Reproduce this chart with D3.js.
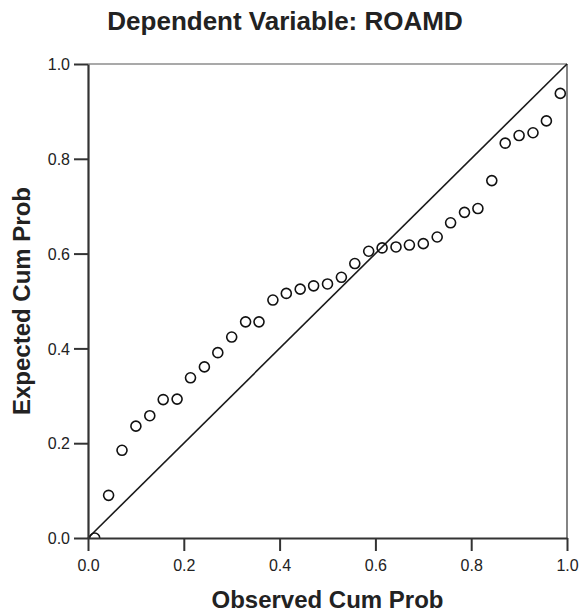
<!DOCTYPE html>
<html>
<head>
<meta charset="utf-8">
<script src="https://cdn.jsdelivr.net/npm/d3@7"></script>
<style>
  body { margin: 0; background: #fff; }
  text { font-family: "Liberation Sans", Arial, sans-serif; fill: #222; }
</style>
</head>
<body>
<svg id="chart" width="585" height="615"></svg>
<script>
// Observed vs expected cumulative probability (P-P plot), 35 cases
const observed = [0.014, 0.043, 0.071, 0.100, 0.129, 0.157, 0.186, 0.214, 0.243, 0.271,
  0.300, 0.329, 0.357, 0.386, 0.414, 0.443, 0.471, 0.500, 0.529, 0.557,
  0.586, 0.614, 0.643, 0.671, 0.700, 0.729, 0.757, 0.786, 0.814, 0.843,
  0.871, 0.900, 0.929, 0.957, 0.986];
const expected = [0.000, 0.090, 0.185, 0.236, 0.258, 0.292, 0.293, 0.338, 0.361, 0.391,
  0.424, 0.456, 0.456, 0.502, 0.516, 0.525, 0.532, 0.536, 0.550, 0.579,
  0.605, 0.612, 0.614, 0.618, 0.621, 0.635, 0.665, 0.687, 0.695, 0.754,
  0.833, 0.849, 0.855, 0.880, 0.938];
const tickValues = [0, 0.2, 0.4, 0.6, 0.8, 1.0];

const svg = d3.select("#chart");
const margin = { left: 88, right: 18, top: 64, bottom: 77 };
const width = 585, height = 615;

const x = d3.scaleLinear().domain([0, 1]).range([margin.left, width - margin.right]);
const y = d3.scaleLinear().domain([0, 1]).range([height - margin.bottom, margin.top]);

const points = observed.map((o, i) => ({ o, e: expected[i] }));

// Clip for plot area
svg.append("defs").append("clipPath").attr("id", "plotClip")
  .append("rect")
  .attr("x", x(0)).attr("y", y(1))
  .attr("width", x(1) - x(0)).attr("height", y(0) - y(1));

// Frame (top and right)
svg.append("line")
  .attr("x1", x(0)).attr("x2", x(1)).attr("y1", y(1)).attr("y2", y(1))
  .attr("stroke", "#555").attr("stroke-width", 1.2);
svg.append("line")
  .attr("x1", x(1)).attr("x2", x(1)).attr("y1", y(1)).attr("y2", y(0))
  .attr("stroke", "#333").attr("stroke-width", 1.2);

// Reference diagonal
svg.append("line")
  .attr("x1", x(0)).attr("y1", y(0)).attr("x2", x(1)).attr("y2", y(1))
  .attr("stroke", "#1a1a1a").attr("stroke-width", 1.6);

// Points
svg.append("g").attr("clip-path", "url(#plotClip)")
  .selectAll("circle")
  .data(points)
  .join("circle")
  .attr("cx", d => x(d.o))
  .attr("cy", d => y(d.e))
  .attr("r", 5)
  .attr("fill", "none")
  .attr("stroke", "#111")
  .attr("stroke-width", 1.6);

// Axes
const xAxis = d3.axisBottom(x).tickValues(tickValues).tickFormat(d3.format(".1f"))
  .tickSize(13).tickSizeOuter(0).tickPadding(9);
const yAxis = d3.axisLeft(y).tickValues(tickValues).tickFormat(d3.format(".1f"))
  .tickSize(14).tickSizeOuter(0).tickPadding(4);

const gx = svg.append("g").attr("transform", `translate(0,${y(0)})`).call(xAxis);
const gy = svg.append("g").attr("transform", `translate(${x(0)},0)`).call(yAxis);

[gx, gy].forEach(g => {
  g.select(".domain").attr("stroke", "#333").attr("stroke-width", 2.2);
  g.selectAll(".tick line").attr("stroke", "#333").attr("stroke-width", 2);
  g.selectAll(".tick text")
    .attr("font-size", 16)
    .attr("font-family", "Liberation Sans, Arial, sans-serif")
    .attr("fill", "#222");
});
gy.selectAll(".tick text").attr("dy", "0.36em");

// Titles
svg.append("text")
  .attr("x", 285).attr("y", 29.5)
  .attr("text-anchor", "middle")
  .attr("font-size", 26).attr("font-weight", "bold")
  .text("Dependent Variable: ROAMD");

svg.append("text")
  .attr("x", (x(0) + x(1)) / 2).attr("y", 608)
  .attr("text-anchor", "middle")
  .attr("font-size", 24).attr("font-weight", "bold")
  .text("Observed Cum Prob");

svg.append("text")
  .attr("transform", `translate(30,${(y(0) + y(1)) / 2}) rotate(-90)`)
  .attr("text-anchor", "middle")
  .attr("font-size", 24).attr("font-weight", "bold")
  .text("Expected Cum Prob");
</script>
</body>
</html>
